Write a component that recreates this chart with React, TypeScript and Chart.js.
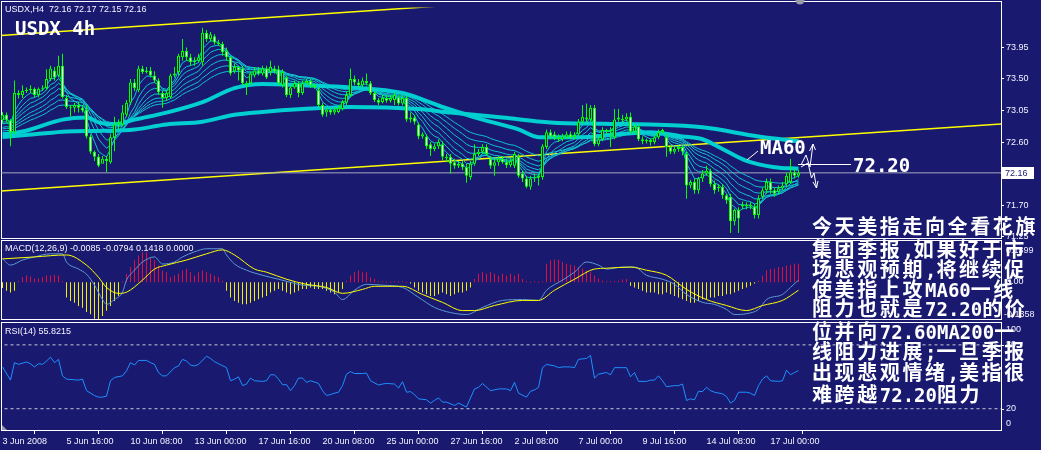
import React, { useEffect, useRef } from "react";
import { Chart, registerables } from "chart.js";

Chart.register(...registerables);

// ---------------- DATA ----------------
const openP = [
  72.91, 72.99, 72.91, 72.74, 73.30, 73.27, 73.33, 73.34, 73.36, 73.27,
  73.36, 73.37, 73.50, 73.62, 73.55, 73.69, 73.23, 73.10, 73.09, 73.13,
  73.09, 73.06, 72.68, 72.46, 72.39, 72.29, 72.36, 72.31, 72.67, 72.85,
  72.85, 72.99, 73.16, 73.45, 73.34, 73.65, 73.60, 73.62, 73.55, 73.48,
  73.30, 73.23, 73.24, 73.55, 73.60, 73.81, 73.90, 73.81, 73.74, 73.76,
  73.74, 74.16, 74.07, 74.11, 74.02, 74.00, 73.90, 73.81, 73.61, 73.67,
  73.65, 73.44, 73.44, 73.55, 73.62, 73.58, 73.65, 73.60, 73.65, 73.64,
  73.41, 73.52, 73.27, 73.38, 73.44, 73.30, 73.44, 73.47, 73.41, 73.34,
  73.13, 73.02, 73.06, 73.02, 73.03, 73.07, 73.16, 73.27, 73.50, 73.45,
  73.41, 73.47, 73.44, 73.30, 73.20, 73.17, 73.23, 73.19, 73.20, 73.24,
  73.15, 73.23, 72.92, 72.95, 72.85, 72.68, 72.68, 72.57, 72.50, 72.54,
  72.57, 72.39, 72.39, 72.31, 72.26, 72.29, 72.24, 72.10, 72.29, 72.43,
  72.46, 72.53, 72.36, 72.26, 72.31, 72.36, 72.31, 72.27, 72.26, 72.39,
  72.15, 72.08, 71.96, 72.08, 72.09, 72.10, 72.53, 72.74, 72.71, 72.67,
  72.64, 72.67, 72.71, 72.67, 72.71, 72.89, 72.95, 72.92, 73.09, 72.57,
  72.64, 72.77, 72.75, 72.67, 72.92, 72.93, 72.92, 72.96, 72.75, 72.82,
  72.64, 72.61, 72.63, 72.60, 72.67, 72.74, 72.67, 72.53, 72.46, 72.50,
  72.53, 72.43, 71.98, 72.03, 71.91, 72.08, 72.15, 72.19, 72.00, 71.94,
  71.96, 71.84, 71.82, 71.47, 71.63, 71.68, 71.70, 71.68, 71.68, 71.56,
  71.82, 71.91, 72.03, 71.91, 71.89, 71.94, 72.00, 72.03, 72.17, 72.12,
];
const highP = [
  73.03, 73.02, 72.93, 73.48, 73.34, 73.41, 73.38, 73.41, 73.38, 73.38,
  73.41, 73.64, 73.69, 73.67, 73.83, 73.86, 73.27, 73.13, 73.16, 73.17,
  73.13, 73.13, 72.71, 72.48, 72.43, 72.40, 72.40, 72.71, 72.96, 72.92,
  73.13, 73.20, 73.50, 73.50, 73.69, 73.69, 73.67, 73.67, 73.61, 73.51,
  73.33, 73.34, 73.58, 73.67, 73.86, 74.07, 73.95, 73.86, 73.81, 73.86,
  74.23, 74.20, 74.17, 74.14, 74.06, 74.03, 73.95, 73.83, 73.72, 73.69,
  73.69, 73.47, 73.61, 73.67, 73.67, 73.69, 73.69, 73.76, 73.69, 73.69,
  73.64, 73.55, 73.41, 73.48, 73.47, 73.48, 73.50, 73.50, 73.44, 73.38,
  73.16, 73.09, 73.09, 73.10, 73.13, 73.20, 73.33, 73.65, 73.55, 73.50,
  73.52, 73.58, 73.47, 73.33, 73.23, 73.27, 73.27, 73.27, 73.31, 73.27,
  73.27, 73.26, 73.02, 72.99, 72.88, 72.74, 72.71, 72.60, 72.58, 72.64,
  72.61, 72.43, 72.43, 72.36, 72.33, 72.33, 72.29, 72.33, 72.57, 72.50,
  72.57, 72.57, 72.40, 72.36, 72.40, 72.40, 72.36, 72.37, 72.46, 72.43,
  72.19, 72.12, 72.12, 72.15, 72.15, 72.57, 72.78, 72.78, 72.75, 72.71,
  72.72, 72.75, 72.75, 72.74, 72.93, 73.13, 73.15, 73.13, 73.13, 72.68,
  72.81, 72.79, 72.81, 73.07, 73.07, 72.99, 73.01, 73.02, 72.86, 72.85,
  72.68, 72.65, 72.65, 72.70, 72.78, 72.79, 72.71, 72.55, 72.53, 72.55,
  72.55, 72.46, 72.06, 72.08, 72.10, 72.20, 72.26, 72.22, 72.05, 72.00,
  72.00, 71.86, 71.86, 71.65, 71.67, 71.75, 71.74, 71.74, 71.72, 71.84,
  71.95, 72.08, 72.08, 71.95, 71.98, 72.03, 72.17, 72.36, 72.22, 72.20,
];
const lowP = [
  72.86, 72.88, 72.54, 72.71, 73.22, 73.23, 73.30, 73.30, 73.24, 73.24,
  73.33, 73.34, 73.47, 73.48, 73.52, 73.22, 73.07, 72.96, 73.02, 73.02,
  73.02, 72.65, 72.43, 72.33, 72.24, 72.31, 72.17, 72.29, 72.47, 72.78,
  72.82, 72.96, 73.13, 73.33, 73.31, 73.57, 73.58, 73.52, 73.45, 73.27,
  73.09, 73.19, 73.22, 73.52, 73.55, 73.76, 73.76, 73.69, 73.69, 73.74,
  73.69, 74.03, 74.03, 73.99, 73.97, 73.83, 73.76, 73.55, 73.58, 73.48,
  73.41, 73.27, 73.41, 73.52, 73.55, 73.55, 73.50, 73.55, 73.58, 73.41,
  73.38, 73.24, 73.23, 73.36, 73.24, 73.27, 73.41, 73.37, 73.36, 73.10,
  72.96, 72.96, 72.99, 72.99, 73.01, 73.05, 73.13, 73.24, 73.41, 73.38,
  73.38, 73.41, 73.27, 73.17, 73.13, 73.15, 73.16, 73.16, 73.13, 73.12,
  73.12, 72.89, 72.88, 72.85, 72.64, 72.65, 72.50, 72.40, 72.47, 72.50,
  72.34, 72.31, 72.15, 72.22, 72.23, 72.20, 72.02, 72.06, 72.26, 72.40,
  72.43, 72.40, 72.22, 72.12, 72.26, 72.29, 72.23, 72.24, 72.23, 72.09,
  72.03, 71.94, 71.92, 72.03, 71.98, 72.06, 72.50, 72.64, 72.63, 72.60,
  72.61, 72.64, 72.64, 72.64, 72.68, 72.86, 72.88, 72.89, 72.54, 72.54,
  72.61, 72.71, 72.53, 72.64, 72.89, 72.88, 72.89, 72.72, 72.72, 72.61,
  72.57, 72.58, 72.55, 72.57, 72.64, 72.71, 72.39, 72.43, 72.43, 72.46,
  72.41, 71.79, 71.94, 71.86, 71.86, 72.03, 72.12, 71.96, 71.86, 71.89,
  71.79, 71.72, 71.30, 71.41, 71.30, 71.64, 71.64, 71.64, 71.51, 71.51,
  71.79, 71.86, 71.86, 71.82, 71.86, 71.91, 71.96, 72.00, 72.08, 72.09,
];
const closeP = [
  72.99, 72.91, 72.74, 73.30, 73.27, 73.33, 73.34, 73.36, 73.27, 73.36,
  73.37, 73.50, 73.65, 73.52, 73.69, 73.24, 73.10, 73.09, 73.13, 73.09,
  73.05, 72.68, 72.46, 72.39, 72.26, 72.36, 72.33, 72.67, 72.85, 72.88,
  73.02, 73.16, 73.45, 73.37, 73.65, 73.60, 73.62, 73.55, 73.48, 73.31,
  73.23, 73.30, 73.55, 73.58, 73.83, 73.90, 73.81, 73.74, 73.76, 73.81,
  74.16, 74.07, 74.14, 74.02, 74.00, 73.88, 73.81, 73.58, 73.67, 73.62,
  73.44, 73.41, 73.58, 73.62, 73.58, 73.65, 73.52, 73.67, 73.61, 73.44,
  73.60, 73.27, 73.38, 73.44, 73.30, 73.44, 73.47, 73.41, 73.38, 73.13,
  72.99, 73.06, 73.02, 73.06, 73.09, 73.17, 73.27, 73.50, 73.45, 73.41,
  73.48, 73.44, 73.30, 73.20, 73.16, 73.23, 73.19, 73.23, 73.27, 73.15,
  73.23, 72.92, 72.95, 72.89, 72.68, 72.71, 72.54, 72.50, 72.54, 72.60,
  72.39, 72.37, 72.29, 72.26, 72.29, 72.24, 72.12, 72.29, 72.43, 72.46,
  72.53, 72.43, 72.26, 72.31, 72.36, 72.31, 72.27, 72.33, 72.43, 72.12,
  72.08, 71.96, 72.08, 72.09, 72.12, 72.54, 72.74, 72.68, 72.67, 72.64,
  72.68, 72.71, 72.67, 72.70, 72.89, 72.96, 72.92, 73.09, 72.57, 72.64,
  72.77, 72.75, 72.77, 72.92, 72.95, 72.91, 72.96, 72.75, 72.82, 72.64,
  72.61, 72.63, 72.60, 72.67, 72.74, 72.77, 72.53, 72.46, 72.50, 72.53,
  72.46, 71.98, 72.03, 71.91, 72.08, 72.15, 72.19, 72.00, 71.91, 71.96,
  71.84, 71.77, 71.47, 71.63, 71.51, 71.70, 71.68, 71.70, 71.56, 71.79,
  71.91, 72.03, 71.91, 71.86, 71.94, 71.98, 72.12, 72.17, 72.12, 72.16,
];

// thick moving averages (bar index, price)
const ma60Bars = [0, 5, 15, 21, 24, 28, 33, 41, 50, 58, 65, 75, 87, 100, 110, 120, 129, 134, 145, 154, 162, 170, 175, 180, 186, 193, 199];
const ma60Vals = [72.71, 72.75, 72.92, 72.95, 72.88, 72.85, 72.92, 73.02, 73.17, 73.37, 73.43, 73.41, 73.38, 73.30, 73.10, 72.92, 72.78, 72.67, 72.67, 72.71, 72.74, 72.68, 72.64, 72.50, 72.33, 72.24, 72.22];
const ma200Bars = [0, 8, 16, 25, 33, 41, 50, 58, 65, 75, 87, 104, 112, 125, 137, 150, 162, 175, 189, 199];
const ma200Vals = [72.67, 72.71, 72.75, 72.76, 72.78, 72.85, 72.89, 72.99, 73.03, 73.07, 73.10, 73.07, 73.02, 72.95, 72.88, 72.86, 72.85, 72.81, 72.68, 72.61];

// thin MA ribbon: EMA periods of the closes, with starting values read at the left edge
const ribbonPeriods = [4, 7, 10, 14, 19, 25, 32];
const ribbonSeeds = [72.95, 72.91, 72.86, 72.84, 72.79, 72.77, 72.74];

// trend lines (bar index, price)
const trendBars = [-1, 250];
const upperTrend = [74.12, 75.08];
const lowerTrend = [71.9, 72.86];
const lastPrice = 72.16;

// MACD panel
const macdHist = [
  -0.02, -0.03, -0.036, -0.03, 0.004, 0.018, 0.024, 0.021, 0.014, 0.014,
  0.018, 0.024, 0.024, 0.026, 0.024, 0.002, -0.054, -0.066, -0.072, -0.084,
  -0.09, -0.105, -0.113, -0.129, -0.131, -0.119, -0.101, -0.084, -0.066, -0.048,
  0.004, 0.03, 0.054, 0.078, 0.095, 0.107, 0.107, 0.09, 0.078, 0.06,
  0.042, 0.036, 0.018, 0.024, 0.03, 0.042, 0.048, 0.036, 0.024, 0.036,
  0.042, 0.036, 0.03, 0.024, 0.018, 0.006, -0.03, -0.054, -0.066, -0.072,
  -0.078, -0.078, -0.072, -0.066, -0.06, -0.054, -0.048, -0.036, -0.03, -0.024,
  -0.03, -0.036, -0.042, -0.036, -0.03, -0.024, -0.024, -0.018, -0.024, -0.024,
  -0.024, -0.03, -0.036, -0.042, -0.036, -0.024, 0.006, 0.024, 0.036, 0.042,
  0.036, 0.036, 0.018, 0.012, 0.004, 0.002, 0, 0, 0.002, 0.002,
  0.002, 0, -0.004, -0.018, -0.03, -0.036, -0.042, -0.048, -0.048, -0.042,
  -0.036, -0.042, -0.048, -0.042, -0.036, -0.036, -0.03, -0.018, 0.012, 0.03,
  0.036, 0.03, 0.036, 0.03, 0.024, 0.03, 0.024, 0.03, 0.024, 0.03,
  0.012, 0.004, 0, 0.002, 0, 0.004, 0.066, 0.078, 0.081, 0.08,
  0.072, 0.066, 0.062, 0.06, 0.054, 0.048, 0.042, 0.036, 0.024, 0.014,
  0.006, 0.002, 0.002, 0.002, 0.006, 0.01, 0.012, -0.012, -0.018, -0.024,
  -0.03, -0.036, -0.036, -0.036, -0.042, -0.042, -0.036, -0.042, -0.048, -0.054,
  -0.06, -0.066, -0.072, -0.072, -0.066, -0.06, -0.06, -0.054, -0.054, -0.048,
  -0.048, -0.042, -0.042, -0.036, -0.03, -0.024, -0.018, -0.012, -0.004, 0.006,
  0.024, 0.042, 0.048, 0.048, 0.054, 0.054, 0.06, 0.062, 0.066, 0.066,
];
const macdBars = [0, 2, 5, 8, 12, 15, 16, 19, 21, 23, 25, 26, 28, 30, 31, 33, 35, 38, 40, 43, 45, 48, 51, 55, 56, 58, 61, 65, 69, 72, 75, 79, 83, 85, 88, 91, 95, 100, 104, 108, 112, 116, 120, 125, 130, 134, 136, 140, 143, 146, 149, 151, 155, 158, 161, 165, 168, 171, 175, 178, 181, 183, 186, 189, 191, 195, 197, 199];
const macdVals = [0.084, 0.061, 0.079, 0.09, 0.101, 0.101, 0.072, 0.047, 0.029, -0.01, -0.061, -0.078, -0.061, -0.035, 0.008, 0.043, 0.072, 0.09, 0.065, 0.072, 0.09, 0.108, 0.119, 0.119, 0.097, 0.065, 0.043, 0.025, 0.011, 0.0, -0.01, -0.014, -0.035, -0.061, -0.028, -0.007, -0.01, -0.018, -0.053, -0.089, -0.107, -0.114, -0.089, -0.064, -0.061, -0.064, -0.028, 0.008, 0.036, 0.072, 0.061, 0.047, 0.054, 0.054, 0.025, 0.011, -0.007, -0.043, -0.071, -0.078, -0.096, -0.114, -0.111, -0.096, -0.061, -0.043, -0.018, 0.008];
const signalBars = [0, 8, 16, 21, 24, 26, 29, 31, 35, 38, 41, 46, 51, 55, 58, 63, 66, 71, 76, 81, 85, 90, 93, 100, 105, 110, 115, 118, 123, 130, 134, 138, 143, 148, 151, 157, 161, 166, 171, 176, 181, 186, 190, 195, 199];
const signalVals = [0.083, 0.09, 0.097, 0.061, 0.018, -0.018, -0.039, -0.035, 0.008, 0.047, 0.061, 0.079, 0.101, 0.115, 0.097, 0.047, 0.036, 0.011, -0.007, -0.018, -0.039, -0.025, -0.014, -0.014, -0.043, -0.071, -0.1, -0.1, -0.082, -0.064, -0.064, -0.028, 0.011, 0.047, 0.05, 0.054, 0.043, 0.025, -0.025, -0.061, -0.082, -0.1, -0.082, -0.064, -0.028];
const macdMax = 0.1399;
const macdMin = -0.1358;

// RSI panel
const rsiBars = [0, 2, 3, 4, 6, 7, 8, 9, 10, 11, 12, 13, 14, 15, 16, 18, 19, 20, 21, 23, 24, 25, 26, 27, 28, 30, 31, 32, 33, 34, 36, 37, 38, 39, 40, 41, 43, 44, 45, 46, 47, 48, 49, 51, 52, 53, 54, 56, 57, 58, 59, 60, 61, 62, 63, 65, 66, 67, 68, 69, 70, 71, 72, 73, 74, 75, 76, 77, 79, 80, 81, 82, 83, 84, 85, 86, 87, 88, 90, 91, 92, 94, 95, 96, 98, 99, 100, 101, 102, 103, 104, 106, 107, 108, 109, 110, 111, 113, 114, 116, 118, 119, 120, 122, 123, 124, 126, 127, 128, 129, 131, 132, 133, 134, 135, 136, 138, 139, 140, 141, 142, 143, 144, 146, 147, 148, 149, 151, 152, 153, 155, 156, 157, 158, 159, 161, 162, 163, 164, 165, 166, 168, 169, 170, 171, 172, 173, 174, 175, 176, 177, 178, 180, 181, 182, 183, 184, 186, 187, 188, 189, 190, 191, 192, 194, 195, 196, 197, 198, 199];
const rsiVals = [59.3, 46.9, 63.3, 61.7, 63.9, 62.3, 59.3, 62.3, 61.7, 64.8, 68.5, 63.3, 66.4, 50.9, 47.8, 47.2, 46.9, 47.8, 37.0, 32.4, 30.9, 30.9, 31.8, 46.3, 49.4, 50.9, 55.6, 63.3, 61.1, 65.4, 65.4, 63.3, 61.7, 54.0, 50.9, 50.9, 58.6, 60.2, 66.4, 64.8, 61.1, 60.2, 61.7, 69.4, 67.3, 64.2, 62.3, 58.6, 46.3, 47.8, 50.0, 41.7, 43.2, 48.8, 46.3, 45.7, 46.3, 51.9, 51.9, 47.8, 42.6, 42.6, 37.0, 41.7, 48.8, 48.8, 44.8, 46.3, 43.8, 37.0, 32.4, 33.3, 34.6, 35.5, 41.7, 52.5, 54.9, 53.1, 53.1, 53.4, 46.3, 42.3, 43.2, 43.8, 43.2, 39.5, 45.4, 35.5, 36.1, 33.3, 29.3, 28.4, 25.3, 27.8, 30.2, 26.2, 26.2, 23.1, 25.3, 21.6, 38.6, 40.1, 43.8, 37.0, 37.7, 38.6, 38.6, 37.0, 44.8, 34.6, 30.9, 36.4, 37.7, 40.1, 58.6, 61.7, 60.2, 58.6, 59.3, 59.3, 59.3, 58.6, 66.4, 67.3, 70.1, 48.8, 52.5, 54.0, 51.9, 58.6, 58.6, 58.6, 50.0, 54.0, 45.7, 45.7, 46.9, 46.9, 50.9, 46.3, 40.7, 41.7, 41.7, 43.2, 27.8, 29.3, 28.4, 36.4, 36.1, 40.1, 37.0, 35.5, 34.0, 31.5, 25.3, 27.8, 35.5, 35.5, 34.6, 32.4, 41.7, 47.8, 50.9, 46.3, 45.7, 46.3, 56.2, 51.9, 54.0, 55.8];
const rsiLevels = [80, 20];
const rsiAxisValues = [100, 80, 20, 0];

// axes
const priceTicks = [71.25, 71.7, 72.6, 73.05, 73.5, 73.95];
const xTickBars = [0, 16, 32, 48, 64, 80, 96, 112, 128, 144, 160, 176, 192];
const xTickLabels = ["3 Jun 2008", "5 Jun 16:00", "10 Jun 08:00", "13 Jun 00:00", "17 Jun 16:00", "20 Jun 08:00", "25 Jun 00:00", "27 Jun 16:00", "2 Jul 08:00", "7 Jul 00:00", "9 Jul 16:00", "14 Jul 08:00", "17 Jul 00:00"];

// texts
const headerMain = "USDX,H4  72.16 72.17 72.15 72.16";
const headerMacd = "MACD(12,26,9) -0.0085 -0.0794 0.1418 0.0000";
const headerRsi = "RSI(14) 55.8215";
const titleText = "USDX 4h";
const maLabel = "MA60";
const levelLabel = "72.20";
const noteLines = [
  "今天美指走向全看花旗",
  "集团季报,如果好于市",
  "场悲观预期,将继续促",
  "使美指上攻MA60一线",
  "阻力也就是72.20的价",
  "位并向72.60MA200一",
  "线阻力进展;一旦季报",
  "出现悲观情绪,美指很",
  "难跨越72.20阻力",
];

// ---------------- STYLE ----------------
const BG = "#191970";
const FG = "#f4f4ff";
const LIME = "#00ff00";
const CYAN = "#00ced1";
const UI_FONT = '"Liberation Sans", "DejaVu Sans", sans-serif';
const MONO = '"DejaVu Sans Mono", "Liberation Mono", monospace';
const CJK = '"Noto Sans CJK SC", "Noto Sans CJK JP", sans-serif';

function emaSeries(period: number, seed: number): number[] {
  const k = 2 / (period + 1);
  const out: number[] = [];
  let v = seed;
  closeP.forEach((c) => {
    v = v + k * (c - v);
    out.push(v);
  });
  return out;
}

const pts = (xs: number[], ys: number[]) => xs.map((x, i) => ({ x, y: ys[i] }));

function drawMixedLine(ctx: any, text: string, x: number, yBase: number) {
  const runs = text.match(/[\x20-\x7e]+|[^\x20-\x7e]+/g) || [];
  let cx = x;
  runs.forEach((run) => {
    const ascii = /^[\x20-\x7e]+$/.test(run);
    if (ascii) {
      ctx.font = `bold 19px ${MONO}`;
      ctx.letterSpacing = "0px";
    } else {
      ctx.font = `bold 20px ${CJK}`;
      ctx.letterSpacing = "2.6px";
    }
    ctx.fillText(run, cx, yBase);
    cx += ctx.measureText(run).width;
  });
  ctx.letterSpacing = "0px";
}

const decorPlugin = {
  id: "decor",
  beforeDraw(chart: any) {
    const { ctx, width, height } = chart;
    ctx.save();
    ctx.fillStyle = BG;
    ctx.fillRect(0, 0, width, height);
    ctx.restore();
  },
  beforeDatasetsDraw(chart: any) {
    const { ctx } = chart;
    ctx.save();
    ctx.strokeStyle = "#ffffff";
    ctx.lineWidth = 1;
    const panels = [
      [1, 238],
      [240, 319],
      [322, 430],
    ];
    panels.forEach(([t, b]) => ctx.strokeRect(1.5, t + 0.5, 1000, b - t));
    ctx.restore();
  },
  afterDraw(chart: any) {
    const { ctx } = chart;
    const sy = chart.scales.y;
    const sm = chart.scales.yM;
    const sr = chart.scales.yR;
    ctx.save();
    ctx.textAlign = "left";
    ctx.textBaseline = "middle";
    ctx.font = `9px ${UI_FONT}`;
    ctx.fillStyle = FG;
    ctx.fillText(headerMain, 5, 10);
    ctx.fillText(headerMacd, 5, 249);
    ctx.fillText(headerRsi, 5, 332);

    // MACD axis labels
    ctx.fillText(macdMax.toFixed(4), 1006, sm.getPixelForValue(macdMax) + 8);
    ctx.fillText("0.00", 1006, sm.getPixelForValue(0) - 1);
    ctx.fillText(macdMin.toFixed(4), 1004, sm.getPixelForValue(macdMin) - 6);
    // RSI axis labels
    rsiAxisValues.forEach((v) => {
      let y = sr.getPixelForValue(v);
      if (v === 100) y += 6;
      if (v === 0) y -= 6;
      ctx.fillText(String(v), 1006, y);
    });
    ctx.strokeStyle = "#ffffff";
    ctx.lineWidth = 1;
    rsiLevels.forEach((v) => {
      const y = Math.round(sr.getPixelForValue(v)) + 0.5;
      ctx.beginPath();
      ctx.moveTo(1001, y);
      ctx.lineTo(1004, y);
      ctx.stroke();
    });

    // current price box
    const py = Math.round(sy.getPixelForValue(lastPrice));
    ctx.fillStyle = "#ffffff";
    ctx.fillRect(1002, py - 6, 32, 12);
    ctx.fillStyle = BG;
    ctx.fillText(lastPrice.toFixed(2), 1005, py + 0.5);

    // shift marker & corner marker
    ctx.fillStyle = "#9a9aaa";
    ctx.beginPath();
    ctx.arc(800, 0, 4.5, 0, Math.PI);
    ctx.fill();
    ctx.beginPath();
    ctx.moveTo(2, 425);
    ctx.lineTo(7, 430);
    ctx.lineTo(2, 430);
    ctx.closePath();
    ctx.fill();

    // titles / annotations
    ctx.fillStyle = "#ffffff";
    ctx.textBaseline = "alphabetic";
    ctx.font = `bold 19px ${MONO}`;
    ctx.fillText(titleText, 15, 35);
    ctx.fillText(maLabel, 760, 154);
    ctx.fillText(levelLabel, 853, 172);

    ctx.strokeStyle = "#ffffff";
    ctx.lineWidth = 1;
    const poly = (p: number[][]) => {
      ctx.beginPath();
      ctx.moveTo(p[0][0], p[0][1]);
      for (let i = 1; i < p.length; i++) ctx.lineTo(p[i][0], p[i][1]);
      ctx.stroke();
    };
    poly([[747, 160], [758, 151]]);
    poly([[798, 164.5], [851, 164.5]]);
    // hand drawn arrows
    poly([[801, 165], [806, 155], [810, 167], [813, 144]]);
    poly([[809.5, 151], [813, 144], [815.5, 150]]);
    poly([[801, 167], [808, 163], [811.5, 178], [814, 173], [816.5, 188]]);
    poly([[813, 182], [816.5, 188], [818, 181]]);

    // Chinese note (shared alphabetic baseline for CJK and Latin runs)
    ctx.textBaseline = "alphabetic";
    const centers = [226.5, 249.5, 270, 289.5, 308.5, 331.5, 352, 373, 395];
    noteLines.forEach((t, i) => drawMixedLine(ctx, t, 812, centers[i] + 7));
    ctx.restore();
  },
};

export default function App() {
  const ref = useRef<HTMLCanvasElement>(null);

  useEffect(() => {
    const bars = openP.map((_, i) => i);
    const ribbon = ribbonPeriods.map((p, k) => emaSeries(p, ribbonSeeds[k]));

    const datasets: any[] = [
      {
        type: "line",
        data: pts(trendBars, upperTrend),
        borderColor: "#ffff00",
        borderWidth: 1.5,
        pointRadius: 0,
        yAxisID: "y",
        order: 30,
      },
      {
        type: "line",
        data: pts(trendBars, lowerTrend),
        borderColor: "#ffff00",
        borderWidth: 1.5,
        pointRadius: 0,
        yAxisID: "y",
        order: 30,
      },
      {
        type: "line",
        data: pts(trendBars, [lastPrice, lastPrice]),
        borderColor: "#a8a8c0",
        borderWidth: 1,
        pointRadius: 0,
        yAxisID: "y",
        order: 29,
      },
      ...ribbon.map((series) => ({
        type: "line",
        data: pts(bars, series),
        borderColor: "#10c4d0",
        borderWidth: 1,
        pointRadius: 0,
        tension: 0,
        yAxisID: "y",
        order: 25,
      })),
      {
        type: "line",
        data: pts(ma200Bars, ma200Vals),
        borderColor: CYAN,
        borderWidth: 4,
        pointRadius: 0,
        cubicInterpolationMode: "monotone",
        yAxisID: "y",
        order: 22,
      },
      {
        type: "line",
        data: pts(ma60Bars, ma60Vals),
        borderColor: CYAN,
        borderWidth: 4,
        pointRadius: 0,
        cubicInterpolationMode: "monotone",
        yAxisID: "y",
        order: 21,
      },
      {
        type: "bar",
        data: bars.map((i) => ({ x: i, y: [lowP[i], highP[i]] })),
        backgroundColor: LIME,
        borderWidth: 0,
        barThickness: 1,
        grouped: false,
        inflateAmount: 0,
        yAxisID: "y",
        order: 12,
      },
      {
        type: "bar",
        data: bars.map((i) => ({ x: i, y: [openP[i], closeP[i]] })),
        backgroundColor: bars.map((i) => (closeP[i] < openP[i] ? "#ffffff" : BG)),
        borderColor: LIME,
        borderWidth: 1,
        borderSkipped: false,
        barThickness: 3,
        minBarLength: 1,
        grouped: false,
        inflateAmount: 0,
        yAxisID: "y",
        order: 11,
      },
      {
        type: "bar",
        data: bars.map((i) => ({ x: i, y: macdHist[i] })),
        backgroundColor: macdHist.map((v) => (v >= 0 ? "#e0103c" : "#f2f200")),
        borderWidth: 0,
        barThickness: 1,
        minBarLength: 1,
        grouped: false,
        inflateAmount: 0,
        yAxisID: "yM",
        order: 8,
      },
      {
        type: "line",
        data: pts(macdBars, macdVals),
        borderColor: "#5b9bd5",
        borderWidth: 1,
        pointRadius: 0,
        cubicInterpolationMode: "monotone",
        yAxisID: "yM",
        order: 6,
      },
      {
        type: "line",
        data: pts(signalBars, signalVals),
        borderColor: "#ffff00",
        borderWidth: 1,
        pointRadius: 0,
        cubicInterpolationMode: "monotone",
        yAxisID: "yM",
        order: 5,
      },
      ...rsiLevels.map((lv) => ({
        type: "line",
        data: pts(trendBars, [lv, lv]),
        borderColor: "#c8c8d8",
        borderWidth: 1,
        borderDash: [3, 3],
        pointRadius: 0,
        yAxisID: "yR",
        order: 4,
      })),
      {
        type: "line",
        data: pts(rsiBars, rsiVals),
        borderColor: "#1e90ff",
        borderWidth: 1,
        pointRadius: 0,
        tension: 0,
        yAxisID: "yR",
        order: 3,
      },
    ];

    const chart = new Chart(ref.current as HTMLCanvasElement, {
      type: "line",
      data: { datasets },
      options: {
        animation: false,
        responsive: false,
        devicePixelRatio: 1,
        events: [],
        layout: { padding: { left: 1, top: 1, right: 0, bottom: 0 }, autoPadding: false },
        plugins: { legend: { display: false }, tooltip: { enabled: false } },
        scales: {
          x: {
            type: "linear",
            position: "bottom",
            min: -0.375,
            max: 249.625,
            offset: false,
            afterFit: (s: any) => {
              s.height = 20;
            },
            afterBuildTicks: (s: any) => {
              s.ticks = xTickBars.map((v) => ({ value: v }));
            },
            grid: { display: true, drawOnChartArea: false, drawTicks: true, tickLength: 4, color: "#ffffff" },
            border: { display: false },
            ticks: {
              autoSkip: false,
              maxRotation: 0,
              minRotation: 0,
              align: "start",
              padding: 2,
              color: FG,
              font: { family: UI_FONT, size: 9 },
              callback: (_v: any, i: number) => xTickLabels[i] ?? "",
            },
          },
          y: {
            type: "linear",
            position: "right",
            min: 68.489,
            max: 74.522,
            afterFit: (s: any) => {
              s.width = 40;
            },
            afterBuildTicks: (s: any) => {
              s.ticks = priceTicks.map((v) => ({ value: v }));
            },
            grid: { display: true, drawOnChartArea: false, drawTicks: true, tickLength: 3, color: "#ffffff" },
            border: { display: false },
            ticks: {
              padding: 2,
              color: FG,
              font: { family: UI_FONT, size: 9 },
              callback: (v: any) => Number(v).toFixed(2),
            },
          },
          yM: { type: "linear", display: false, min: -0.523, max: 0.9738 },
          yR: { type: "linear", display: false, min: 0, max: 397.2 },
        },
      } as any,
      plugins: [decorPlugin],
    } as any);
    return () => chart.destroy();
  }, []);

  return (
    <div style={{ position: "fixed", left: 0, top: 0, width: 1041, height: 450, background: BG }}>
      <canvas ref={ref} width={1041} height={450} style={{ display: "block", width: 1041, height: 450 }} />
    </div>
  );
}
